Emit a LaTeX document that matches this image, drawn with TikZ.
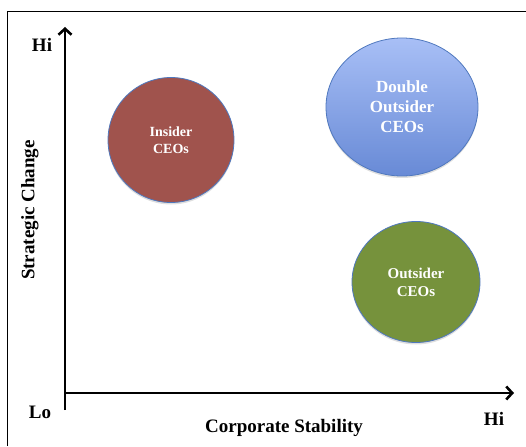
\documentclass[tikz,border=0pt]{standalone}
\usepackage{fontspec}
\setmainfont{Liberation Serif}
\usetikzlibrary{shapes.geometric,arrows.meta,shadows}
\definecolor{insiderfill}{RGB}{160,83,77}
\definecolor{outsiderfill}{RGB}{118,146,60}
\definecolor{doubletop}{RGB}{168,191,246}
\definecolor{doublebottom}{RGB}{104,138,214}
\definecolor{rimblue}{RGB}{79,120,190}
\tikzset{
  axis/.style={line width=2.8pt,-{Straight Barb[length=6pt,width=13pt,line width=2.6pt]}},
  frameline/.style={line width=1pt},
  ceo/.style={ellipse,draw=rimblue,line width=0.8pt,text=white,align=center,
    font=\bfseries,inner sep=0pt,
    drop shadow={shadow xshift=0pt,shadow yshift=-2pt,opacity=0.25}},
  axislabel/.style={font=\bfseries\fontsize{19}{22}\selectfont,text=black}
}
\begin{document}
\begin{tikzpicture}[x=1pt,y=-1pt]
\useasboundingbox (0,0) rectangle (526,446);
% outer frame (top and left edges)
\draw[frameline] (7.5,446) -- (7.5,11.5) -- (526,11.5);
% axes
\coordinate (ytop) at (65,27);
\coordinate (ybot) at (65,410);
\coordinate (xleft) at (65,393);
\coordinate (xright) at (514,393);
\draw[line width=2.8pt] (ybot) -- (65,390);
\draw[axis] (65,393) -- (ytop);
\draw[axis] (xleft) -- (xright);
% axis labels
\node[axislabel] (hiy) at (42,45) {Hi};
\node[axislabel] (lo) at (40,412) {Lo};
\node[axislabel] (hix) at (494,419) {Hi};
\node[axislabel] (xlabel) at (284,428) {Corporate Stability};
\node[axislabel,rotate=90] (ylabel) at (30,210) {Strategic Change};
% CEO groups
\node[ceo,fill=insiderfill,minimum width=126pt,minimum height=125pt,
  font=\bfseries\fontsize{14}{17}\selectfont] (insider) at (171,140) {Insider\\CEOs};
\node[ceo,top color=doubletop,bottom color=doublebottom,minimum width=152pt,minimum height=138pt,
  font=\bfseries\fontsize{17}{20}\selectfont] (double) at (402,107) {Double\\Outsider\\CEOs};
\node[ceo,fill=outsiderfill,minimum width=128pt,minimum height=121pt,
  font=\bfseries\fontsize{15}{18}\selectfont] (outsider) at (416,282) {Outsider\\CEOs};
\end{tikzpicture}
\end{document}
